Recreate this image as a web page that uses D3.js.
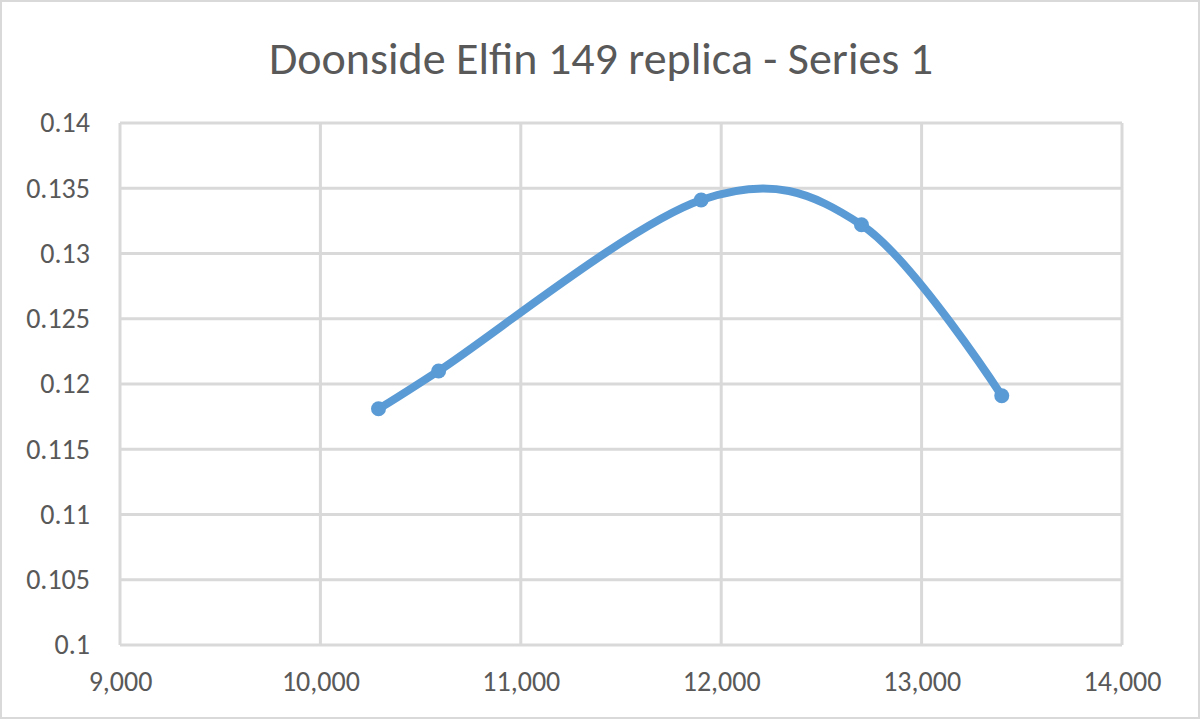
<!DOCTYPE html>
<html><head><meta charset="utf-8">
<script src="https://cdn.jsdelivr.net/npm/d3@7"></script>
<style>body{margin:0;background:#fff}svg{display:block}</style>
</head><body>
<script>
const title = "Doonside Elfin 149 replica - Series 1";
const xValues = [10290, 10590, 11900, 12700, 13400];
const yValues = [0.1181, 0.1210, 0.1341, 0.1322, 0.1191];
const xTicks = [9000, 10000, 11000, 12000, 13000, 14000];
const yTicks = [0.1, 0.105, 0.11, 0.115, 0.12, 0.125, 0.13, 0.135, 0.14];

const W = 1200, H = 719;
const svg = d3.select("body").append("svg").attr("width", W).attr("height", H);
svg.append("rect").attr("x",1).attr("y",1).attr("width",W-2).attr("height",H-2)
  .attr("fill","#fff").attr("stroke","#d9d9d9").attr("stroke-width",2);

const x = d3.scaleLinear().domain([9000,14000]).range([120,1122]);
const y = d3.scaleLinear().domain([0.1,0.14]).range([645,123]);
const font = "Calibri, Carlito, 'Open Sans', 'Liberation Sans', sans-serif";

// gridlines
svg.append("g").selectAll("line").data(yTicks).join("line")
  .attr("x1",x(9000)).attr("x2",x(14000)).attr("y1",d=>y(d)).attr("y2",d=>y(d))
  .attr("stroke","#d9d9d9").attr("stroke-width",3);
svg.append("g").selectAll("line").data(xTicks).join("line")
  .attr("y1",y(0.1)).attr("y2",y(0.14)).attr("x1",d=>x(d)).attr("x2",d=>x(d))
  .attr("stroke","#d9d9d9").attr("stroke-width",3);

// axes labels
const yAxis = d3.axisLeft(y).tickValues(yTicks).tickSize(0).tickPadding(30).tickFormat(d=>String(+d.toFixed(3)));
const gy = svg.append("g").attr("transform",`translate(${x(9000)},0)`).call(yAxis);
gy.select(".domain").remove();
gy.selectAll("text").attr("fill","#595959").style("font-size","28px").style("font-family",font);

const xAxis = d3.axisBottom(x).tickValues(xTicks).tickSize(0).tickPadding(26).tickFormat(d3.format(","));
const gx = svg.append("g").attr("transform",`translate(0,${y(0.1)})`).call(xAxis);
gx.select(".domain").remove();
gx.selectAll("text").attr("fill","#595959").style("font-size","28px").style("font-family",font);

// title
svg.append("text").attr("x",601).attr("y",74).attr("text-anchor","middle")
  .attr("fill","#595959").style("font-size","46px").style("font-family",font).text(title);

const data = xValues.map((v,i)=>[v,yValues[i]]);
const line = d3.line().x(d=>x(d[0])).y(d=>y(d[1])).curve(d3.curveCardinal.tension(0));
svg.append("path").datum(data).attr("d",line).attr("fill","none")
  .attr("stroke","#5b9bd5").attr("stroke-width",8).attr("stroke-linecap","round");
svg.append("g").selectAll("circle").data(data).join("circle")
  .attr("cx",d=>x(d[0])).attr("cy",d=>y(d[1])).attr("r",7.5).attr("fill","#5b9bd5");
</script>
</body></html>
